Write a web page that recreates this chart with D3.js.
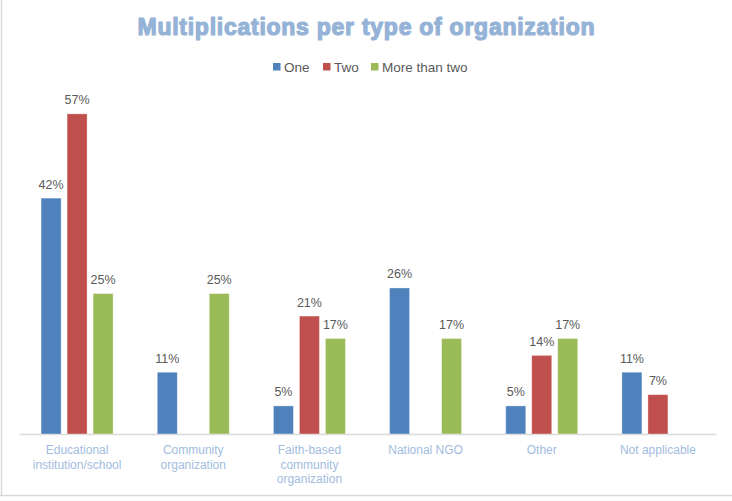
<!DOCTYPE html>
<html><head><meta charset="utf-8">
<script src="https://cdn.jsdelivr.net/npm/d3@7"></script>
<style>body{margin:0;background:#fff}svg{display:block}</style>
</head><body>
<svg id="c" width="732" height="501"></svg>
<script>
const categories = [["Educational","institution/school"],["Community","organization"],["Faith-based","community","organization"],["National NGO"],["Other"],["Not applicable"]];
const seriesNames = ["One","Two","More than two"];
const one = [42, 11, 5, 26, 5, 11];
const two = [57, null, 21, null, 14, 7];
const moreThanTwo = [25, 25, 17, 17, 17, null];
const colors = ["#4F81BD","#C0504D","#9BBB59"];
const title = "Multiplications per type of organization";

const svg = d3.select("#c");
const W = 732, H = 501;
const left = 19, right = 716, base = 434;
const series = [one, two, moreThanTwo];

// frame
svg.append("line").attr("x1",1.5).attr("x2",1.5).attr("y1",0).attr("y2",496).attr("stroke","#D9D9D9").attr("stroke-width",1.5);
svg.append("line").attr("x1",0).attr("x2",W).attr("y1",495.5).attr("y2",495.5).attr("stroke","#D9D9D9").attr("stroke-width",1.5);

svg.append("text").attr("x",137.5).attr("y",35)
  .attr("font-family","Liberation Sans").attr("font-weight","bold").attr("font-size",23)
  .attr("textLength",457).attr("lengthAdjust","spacing")
  .attr("fill","#95B3D7").attr("stroke","#95B3D7").attr("stroke-width",1.2).attr("stroke-linejoin","round").text(title);

const x0 = d3.scaleBand().domain(d3.range(categories.length)).range([left,right]);
const x1 = d3.scaleBand().domain(d3.range(3)).range([0,72]).paddingInner(0.23);
const y = d3.scaleLinear().domain([0,60]).range([base, base-337]);

// legend
const legX = [273, 323, 371];
const leg = svg.append("g");
seriesNames.forEach((s,i)=>{
  leg.append("rect").attr("x",legX[i]).attr("y",63).attr("width",7.5).attr("height",7.5).attr("fill",colors[i]);
  leg.append("text").attr("x",legX[i]+11).attr("y",71.5).attr("font-family","Liberation Sans").attr("font-size",13.5)
    .attr("fill","#595959").text(s);
});

// axis
const ax = svg.append("g").attr("transform",`translate(0,${base})`)
  .call(d3.axisBottom(x0).tickSize(0).tickFormat(()=>""));
ax.select(".domain").attr("stroke","#D9D9D9").attr("stroke-width",1.5);

categories.forEach((lines,i)=>{
  const t = svg.append("text").attr("text-anchor","middle").attr("font-family","Liberation Sans")
    .attr("font-size",12).attr("fill","#A2BCE0");
  lines.forEach((l,j)=>{
    t.append("tspan").attr("x",x0(i)+x0.bandwidth()/2).attr("y",454+j*14.5).text(l);
  });
});

const g = svg.append("g");
series.forEach((vals,si)=>{
  vals.forEach((v,i)=>{
    if(v==null) return;
    const bx = x0(i)+x0.bandwidth()/2-36+x1(si);
    g.append("rect").attr("x",bx).attr("y",y(v)).attr("width",x1.bandwidth()).attr("height",base-y(v))
      .attr("fill",colors[si]).attr("stroke","rgba(255,255,255,0.5)").attr("stroke-width",0.7);
    g.append("text").attr("x",bx+x1.bandwidth()/2).attr("y",y(v)-9.5).attr("text-anchor","middle")
      .attr("font-family","Liberation Sans").attr("font-size",12.5).attr("fill","#595959").text(v+"%");
  });
});
</script>
</body></html>
